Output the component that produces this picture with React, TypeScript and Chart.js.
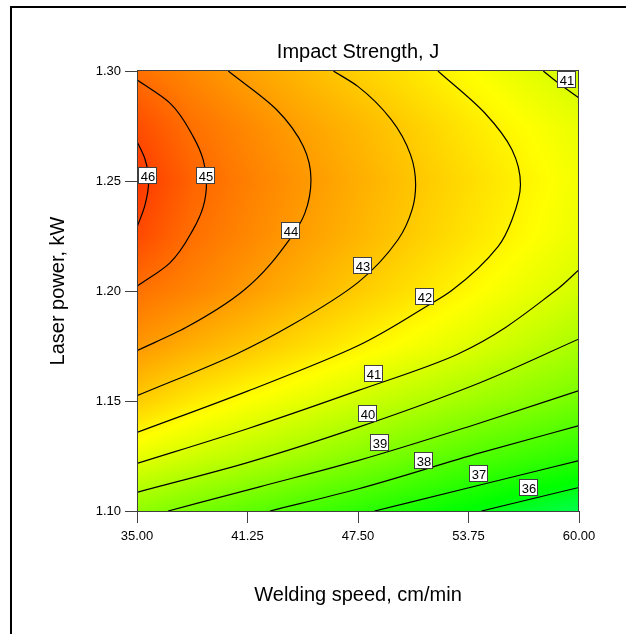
import React, { useEffect, useRef } from 'react';
import { Chart, registerables } from 'chart.js';

Chart.register(...registerables);

// ---------- data ----------
const titleText = 'Impact Strength, J';
const xTitle = 'Welding speed, cm/min';
const yTitle = 'Laser power, kW';

const xTicks = [35, 41.25, 47.5, 53.75, 60];
const yTicks = [1.1, 1.15, 1.2, 1.25, 1.3];

// response surface (rows: laser power, cols: welding speed)
const gridX = [35, 38.125, 41.25, 44.375, 47.5, 50.625, 53.75, 56.875, 60];
const gridY = [1.1, 1.125, 1.15, 1.175, 1.2, 1.225, 1.25, 1.275, 1.3];
const gridZ = [
  [39.31, 38.76, 38.22, 37.69, 37.16, 36.64, 36.12, 35.58, 35.05],
  [41.24, 40.69, 40.21, 39.69, 39.15, 38.58, 38.01, 37.57, 37.13],
  [42.86, 42.19, 41.66, 41.18, 40.68, 40.16, 39.67, 39.2, 38.71],
  [44.07, 43.51, 43.02, 42.51, 42.0, 41.51, 41.02, 40.44, 39.86],
  [44.93, 44.48, 43.96, 43.42, 42.89, 42.36, 41.83, 41.3, 40.77],
  [45.84, 44.97, 44.43, 43.9, 43.38, 42.86, 42.32, 41.8, 41.28],
  [46.25, 45.25, 44.61, 44.08, 43.55, 43.02, 42.5, 41.97, 41.44],
  [45.75, 44.94, 44.38, 43.83, 43.33, 42.8, 42.23, 41.72, 41.24],
  [44.98, 44.39, 43.82, 43.29, 42.77, 42.24, 41.71, 41.18, 40.66],
];

// contour lines [speed, power]
const c46 = [[35.0, 1.268], [35.45, 1.26], [35.66, 1.25], [35.45, 1.239], [35.0, 1.229]];
const c45 = [[35.0, 1.296], [36.85, 1.2855], [38.17, 1.2703], [38.75, 1.2595], [38.93, 1.2491], [38.75, 1.2385], [38.17, 1.2279], [36.85, 1.2127], [35.0, 1.2021]];
const c44 = [[40.16, 1.3], [42.9, 1.2824], [44.41, 1.2657], [44.84, 1.2506], [44.5, 1.2355], [43.75, 1.2248], [41.01, 1.2001], [37.79, 1.1835], [35.0, 1.1729]];
const c43 = [[46.11, 1.3], [47.49, 1.293], [49.38, 1.2779], [50.47, 1.262], [50.76, 1.2483], [50.56, 1.237], [49.76, 1.2233], [47.49, 1.2038], [43.75, 1.1845], [40.63, 1.1714], [35.0, 1.1524]];
const c42 = [[52.02, 1.3], [54.67, 1.2809], [56.21, 1.2642], [56.69, 1.2483], [56.21, 1.2324], [55.43, 1.2203], [52.78, 1.2001], [51.27, 1.1925], [47.49, 1.1751], [41.25, 1.1545], [35.0, 1.1357]];
const c41a = [[57.98, 1.3], [58.83, 1.2945], [60.0, 1.2877]];
const c41b = [[35.0, 1.1216], [41.25, 1.1374], [47.49, 1.1547], [53.16, 1.1714], [58.66, 1.2001], [60.0, 1.2097]];
const c40 = [[35.0, 1.1085], [41.25, 1.122], [47.49, 1.138], [54.4, 1.1583], [60.0, 1.1782]];
const c39 = [[36.76, 1.1], [41.93, 1.111], [47.49, 1.1229], [54.4, 1.14], [60.0, 1.1547]];
const c38 = [[42.52, 1.1], [47.49, 1.11], [54.4, 1.1264], [60.0, 1.1388]];
const c37 = [[48.44, 1.1], [54.4, 1.1118], [60.0, 1.1229]];
const c36 = [[54.48, 1.1], [60.0, 1.1107]];
const contours = [c46, c45, c44, c43, c42, c41a, c41b, c40, c39, c38, c37, c36];
const contourLevels = [46, 45, 44, 43, 42, 41, 41, 40, 39, 38, 37, 36];

// contour labels
const labelText = ['46', '45', '44', '43', '42', '41', '40', '39', '38', '37', '36', '41'];
const labelX = [35.6, 38.91, 43.71, 47.77, 51.31, 48.41, 48.06, 48.72, 51.22, 54.34, 57.17, 59.33];
const labelY = [1.2525, 1.2525, 1.2275, 1.2113, 1.1974, 1.1623, 1.1441, 1.1308, 1.1229, 1.117, 1.1104, 1.296];

// ---------- styles ----------
const FONT = "'Liberation Sans', Arial, Helvetica, sans-serif";
const colorStopZ = [35.0, 36.2, 41.7, 47.5];
const colorStopRGB = [
  [0, 255, 80],
  [0, 255, 0],
  [255, 255, 0],
  [255, 0, 0],
];

function colorFor(z: number): number[] {
  if (z <= colorStopZ[0]) return colorStopRGB[0];
  for (let i = 0; i < colorStopZ.length - 1; i++) {
    if (z <= colorStopZ[i + 1]) {
      const t = (z - colorStopZ[i]) / (colorStopZ[i + 1] - colorStopZ[i]);
      const a = colorStopRGB[i], b = colorStopRGB[i + 1];
      return [a[0] + (b[0] - a[0]) * t, a[1] + (b[1] - a[1]) * t, a[2] + (b[2] - a[2]) * t];
    }
  }
  return colorStopRGB[colorStopRGB.length - 1];
}

function locate(arr: number[], v: number): [number, number] {
  const n = arr.length;
  if (v <= arr[0]) return [0, 0];
  if (v >= arr[n - 1]) return [n - 2, 1];
  for (let i = 0; i < n - 1; i++) {
    if (v <= arr[i + 1]) return [i, (v - arr[i]) / (arr[i + 1] - arr[i])];
  }
  return [n - 2, 1];
}

function zAt(x: number, y: number): number {
  const [i, tx] = locate(gridX, x);
  const [j, ty] = locate(gridY, y);
  const z00 = gridZ[j][i], z01 = gridZ[j][i + 1];
  const z10 = gridZ[j + 1][i], z11 = gridZ[j + 1][i + 1];
  const a = z00 + (z01 - z00) * tx;
  const b = z10 + (z11 - z10) * tx;
  return a + (b - a) * ty;
}

const surfacePlugin = {
  id: 'surface',
  beforeDatasetsDraw(chart: any) {
    const { ctx, chartArea: a, scales } = chart;
    const xs = scales.x, ys = scales.y;
    const left = Math.round(a.left), top = Math.round(a.top);
    const w = Math.round(a.right) - left, h = Math.round(a.bottom) - top;
    const img = ctx.createImageData(w, h);
    const d = img.data;
    const xv: number[] = [];
    for (let i = 0; i < w; i++) xv.push(xs.getValueForPixel(left + i + 0.5));
    for (let j = 0; j < h; j++) {
      const yv = ys.getValueForPixel(top + j + 0.5);
      for (let i = 0; i < w; i++) {
        const c = colorFor(zAt(xv[i], yv));
        const k = (j * w + i) * 4;
        d[k] = c[0]; d[k + 1] = c[1]; d[k + 2] = c[2]; d[k + 3] = 255;
      }
    }
    ctx.putImageData(img, left, top);
  },
  afterDatasetsDraw(chart: any) {
    const { ctx, chartArea: a, scales } = chart;
    ctx.save();
    ctx.strokeStyle = '#404040';
    ctx.lineWidth = 1;
    ctx.strokeRect(Math.round(a.left) + 0.5, Math.round(a.top) - 0.5, Math.round(a.right) - Math.round(a.left) - 1, Math.round(a.bottom) - Math.round(a.top) + 1);
    ctx.font = `13px ${FONT}`;
    ctx.textAlign = 'center';
    ctx.textBaseline = 'middle';
    for (let i = 0; i < labelText.length; i++) {
      const cx = Math.round(scales.x.getPixelForValue(labelX[i]));
      const cy = Math.round(scales.y.getPixelForValue(labelY[i]));
      const tw = ctx.measureText(labelText[i]).width;
      const bw = Math.round(tw + 5), bh = 17;
      const bx = cx - Math.round(bw / 2), by = cy - Math.round(bh / 2);
      ctx.fillStyle = '#ffffff';
      ctx.fillRect(bx, by, bw, bh);
      ctx.strokeStyle = '#404040';
      ctx.strokeRect(bx + 0.5, by + 0.5, bw - 1, bh - 1);
      ctx.fillStyle = '#000000';
      ctx.fillText(labelText[i], cx, cy + 1);
    }
    ctx.restore();
  },
  afterDraw(chart: any) {
    const ctx = chart.ctx;
    ctx.save();
    ctx.fillStyle = '#000000';
    ctx.fillRect(10, 6, chart.width - 10, 2);
    ctx.fillRect(10, 6, 2, chart.height - 6);
    ctx.restore();
  },
};

export default function App() {
  const ref = useRef<HTMLCanvasElement | null>(null);
  useEffect(() => {
    if (!ref.current) return;
    Chart.defaults.font.family = FONT;
    const datasets = contours.map((c, idx) => ({
      label: String(contourLevels[idx]),
      data: c.map(([x, y]) => ({ x, y })),
      indexAxis: 'y',
      borderColor: '#000000',
      borderWidth: 1.2,
      pointRadius: 0,
      pointHoverRadius: 0,
      cubicInterpolationMode: 'monotone',
      fill: false,
    }));
    const chart = new Chart(ref.current, {
      type: 'line',
      data: { datasets },
      plugins: [surfacePlugin],
      options: {
        animation: false,
        responsive: false,
        devicePixelRatio: 1,
        events: [],
        indexAxis: 'y',
        layout: { padding: { left: 0, right: 47, top: 0, bottom: 0 } },
        plugins: {
          legend: { display: false },
          tooltip: { enabled: false },
          title: {
            display: true,
            text: titleText,
            fullSize: false,
            color: '#000000',
            font: { size: 20, weight: 'normal', family: FONT },
            padding: { top: 40, bottom: 7 },
          },
        },
        scales: {
          x: {
            type: 'linear',
            position: 'bottom',
            min: xTicks[0],
            max: xTicks[xTicks.length - 1],
            afterBuildTicks: (s: any) => { s.ticks = xTicks.map((v) => ({ value: v })); },
            afterFit: (s: any) => { s.height = 123; },
            ticks: {
              callback: (v: any) => Number(v).toFixed(2),
              font: { size: 13, family: FONT },
              color: '#000000',
              padding: 6,
              maxRotation: 0,
              autoSkip: false,
            },
            grid: { drawOnChartArea: false, drawTicks: true, tickLength: 12, tickColor: '#404040' },
            border: { display: false },
            title: {
              display: true,
              text: xTitle,
              color: '#000000',
              font: { size: 20, family: FONT },
              padding: { top: 0, bottom: 27 },
            },
          },
          y: {
            type: 'linear',
            position: 'left',
            min: yTicks[0],
            max: yTicks[yTicks.length - 1],
            afterBuildTicks: (s: any) => { s.ticks = yTicks.map((v) => ({ value: v })); },
            afterFit: (s: any) => { s.width = 137; },
            ticks: {
              callback: (v: any) => Number(v).toFixed(2),
              font: { size: 13, family: FONT },
              color: '#000000',
              padding: 4,
              autoSkip: false,
            },
            grid: { drawOnChartArea: false, drawTicks: true, tickLength: 12, tickColor: '#404040' },
            border: { display: false },
            title: {
              display: true,
              text: yTitle,
              color: '#000000',
              font: { size: 20, family: FONT },
              padding: { top: 46, bottom: 0 },
            },
          },
        },
      } as any,
    });
    return () => chart.destroy();
  }, []);
  return (
    <div style={{ position: 'absolute', left: 0, top: 0, width: 626, height: 634, background: '#ffffff' }}>
      <canvas ref={ref} width={626} height={634} style={{ display: 'block', width: 626, height: 634 }} />
    </div>
  );
}
